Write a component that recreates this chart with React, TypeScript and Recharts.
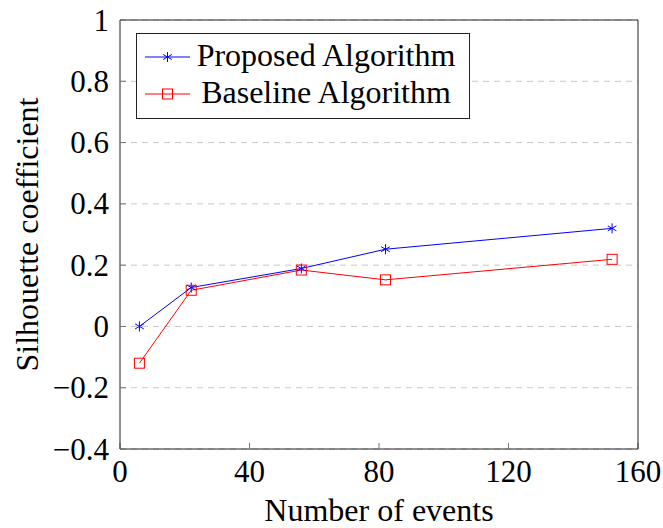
import { LineChart, Line, XAxis, YAxis, CartesianGrid, Legend } from 'recharts';

const events = [6, 22, 56, 82, 152];
const proposed = [0, 0.127, 0.189, 0.252, 0.32];
const baseline = [-0.12, 0.118, 0.184, 0.152, 0.219];
const xTicks = [0, 40, 80, 120, 160];
const yTicks = [-0.4, -0.2, 0, 0.2, 0.4, 0.6, 0.8, 1];
const legendOrder = ['proposed', 'baseline'];

const data = events.map((e, i) => ({ events: e, proposed: proposed[i], baseline: baseline[i] }));

const FONT = "'Liberation Serif', 'Times New Roman', 'DejaVu Serif', serif";
const txt = (size: number) => ({ fontFamily: FONT, fontSize: size, fill: '#000' });

/** 0.4 -> "0.4", -0.2 -> "−0.2", 1 -> "1" */
const fmtY = (v: number) => {
  const r = Math.round(v * 10) / 10;
  if (Number.isInteger(r)) return String(r);
  const s = Math.abs(r).toFixed(1);
  return r < 0 ? `\u2212${s}` : s;
};

function Asterisk({ cx, cy, color, r = 5 }: { cx: number; cy: number; color: string; r?: number }) {
  const dx = r * Math.cos(Math.PI / 6);
  const dy = r / 2;
  return (
    <g stroke={color} strokeWidth={1}>
      <line x1={cx} y1={cy - r} x2={cx} y2={cy + r} />
      <line x1={cx - dx} y1={cy - dy} x2={cx + dx} y2={cy + dy} />
      <line x1={cx - dx} y1={cy + dy} x2={cx + dx} y2={cy - dy} />
    </g>
  );
}

function Square({ cx, cy, color, s = 10 }: { cx: number; cy: number; color: string; s?: number }) {
  return <rect x={cx - s / 2} y={cy - s / 2} width={s} height={s} fill="none" stroke={color} strokeWidth={1} />;
}

function LegendBox({ payload }: any) {
  if (!payload?.length) return null;
  const items = [...payload].sort(
    (a: any, b: any) => legendOrder.indexOf(a.dataKey) - legendOrder.indexOf(b.dataKey)
  );
  return (
    <svg width={334} height={86} style={{ display: 'block' }}>
      <rect x={0.5} y={0.5} width={333} height={85} fill="#fff" stroke="#222" />
      {items.map((entry: any, i: number) => {
        const y = 24 + i * 37;
        const Marker = entry.dataKey === 'proposed' ? Asterisk : Square;
        return (
          <g key={entry.value}>
            <line x1={9} y1={y} x2={54} y2={y} stroke={entry.color} strokeWidth={1} />
            <Marker cx={31.5} cy={y} color={entry.color} />
            <text x={190} y={y + 9} textAnchor="middle" style={txt(32)}>
              {entry.value}
            </text>
          </g>
        );
      })}
    </svg>
  );
}

function XTick({ x, y, payload }: any) {
  return (
    <text x={x} y={y + 29} textAnchor="middle" style={txt(31)}>
      {payload.value}
    </text>
  );
}

function YTick({ x, y, payload }: any) {
  return (
    <text x={x} y={y + 10.5} textAnchor="end" style={txt(31)}>
      {fmtY(payload.value)}
    </text>
  );
}

function XTitle({ viewBox }: any) {
  return (
    <text x={viewBox.x + viewBox.width / 2} y={viewBox.y + 72} textAnchor="middle" style={txt(32)}>
      Number of events
    </text>
  );
}

function YTitle({ viewBox }: any) {
  const x = 38;
  const y = viewBox.y + viewBox.height / 2;
  return (
    <text x={x} y={y} transform={`rotate(-90, ${x}, ${y})`} textAnchor="middle" style={txt(32)}>
      Silhouette coefficient
    </text>
  );
}

export default function App() {
  return (
    <div style={{ position: 'absolute', left: 0, top: 0, background: '#fff', fontFamily: FONT }}>
      <LineChart width={663} height={528} data={data} margin={{ top: 19, right: 24, left: 0, bottom: 0 }}>
        <CartesianGrid
          xAxisId="b"
          yAxisId="l"
          vertical={false}
          stroke="#c8c8c8"
          strokeDasharray="6 5"
        />
        <XAxis
          xAxisId="b"
          dataKey="events"
          type="number"
          domain={[0, 160]}
          ticks={xTicks}
          interval={0}
          height={79}
          tickSize={-6}
          tickMargin={10}
          tick={<XTick />}
          axisLine={{ stroke: '#222' }}
          tickLine={{ stroke: '#777' }}
          label={{ content: <XTitle /> }}
        />
        <XAxis
          xAxisId="t"
          orientation="top"
          type="number"
          domain={[0, 160]}
          ticks={xTicks}
          interval={0}
          height={1}
          tickSize={-6}
          tick={false}
          axisLine={{ stroke: '#222' }}
          tickLine={{ stroke: '#777' }}
        />
        <YAxis
          yAxisId="l"
          type="number"
          domain={[-0.4, 1]}
          ticks={yTicks}
          interval={0}
          width={120}
          tickSize={-6}
          tickMargin={17}
          tick={<YTick />}
          axisLine={{ stroke: '#222' }}
          tickLine={{ stroke: '#777' }}
          label={{ content: <YTitle /> }}
        />
        <YAxis
          yAxisId="r"
          orientation="right"
          type="number"
          domain={[-0.4, 1]}
          ticks={yTicks}
          interval={0}
          width={1}
          tickSize={-6}
          tick={false}
          axisLine={{ stroke: '#222' }}
          tickLine={{ stroke: '#777' }}
        />
        <Legend
          layout="vertical"
          align="center"
          verticalAlign="middle"
          wrapperStyle={{ position: 'absolute', left: 136, top: 33, width: 334, height: 86 }}
          content={<LegendBox />}
        />
        <Line
          xAxisId="b"
          yAxisId="l"
          type="linear"
          dataKey="proposed"
          name="Proposed Algorithm"
          stroke="#0000ff"
          strokeWidth={1}
          dot={(p: any) => <Asterisk key={`p${p.index}`} cx={p.cx} cy={p.cy} color="#0000ff" />}
          activeDot={false}
          isAnimationActive={false}
        />
        <Line
          xAxisId="b"
          yAxisId="l"
          type="linear"
          dataKey="baseline"
          name="Baseline Algorithm"
          stroke="#ff0000"
          strokeWidth={1}
          dot={(p: any) => <Square key={`b${p.index}`} cx={p.cx} cy={p.cy} color="#ff0000" />}
          activeDot={false}
          isAnimationActive={false}
        />
      </LineChart>
    </div>
  );
}
